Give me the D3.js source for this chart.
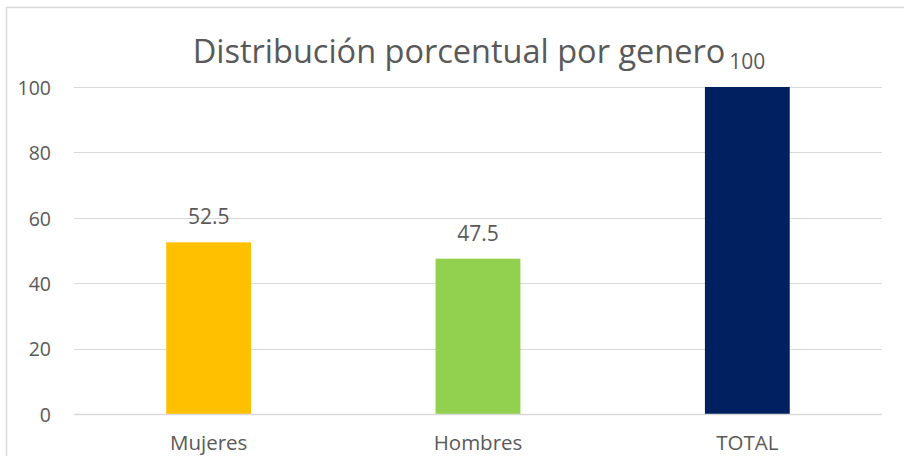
<!DOCTYPE html>
<html><head><meta charset="utf-8">
<script src="https://cdn.jsdelivr.net/npm/d3@7"></script>
<style>
html,body{margin:0;padding:0;background:#fff;}
text{font-family:"Open Sans",sans-serif;fill:#595959;}
</style></head>
<body>
<svg id="c" width="904" height="456"></svg>
<script>
const categories = ["Mujeres","Hombres","TOTAL"];
const values = [52.5, 47.5, 100];
const colors = ["#FFC000","#92D050","#002060"];
const yTicks = [0,20,40,60,80,100];
const title = "Distribución porcentual por genero";

const svg = d3.select("#c");
const W = 904, H = 456;
const m = {left:74, right:22, top:87, bottom:42};
const x = d3.scaleBand().domain(categories).range([m.left, W-m.right]).paddingInner(0.685).paddingOuter(0.3425);
const y = d3.scaleLinear().domain([0,100]).range([H-m.bottom, m.top]);

// chart border (left and top edges visible)
svg.append("path").attr("d","M6.5,456V7.5H904").attr("fill","none").attr("stroke","#d9d9d9").attr("stroke-width",1.5);

// gridlines
svg.append("g").selectAll("line").data(yTicks).join("line")
  .attr("x1",m.left).attr("x2",W-m.right)
  .attr("y1",d=>Math.round(y(d))+0.5).attr("y2",d=>Math.round(y(d))+0.5)
  .attr("stroke","#d9d9d9").attr("stroke-width",1);

// y axis labels
const ya = svg.append("g").attr("transform",`translate(${m.left},1)`)
  .call(d3.axisLeft(y).tickValues(yTicks).tickSize(0).tickPadding(23));
ya.select(".domain").remove();
ya.selectAll("text").style("font-size","19.5px").attr("fill","#595959");

// bars
svg.append("g").selectAll("rect").data(values).join("rect")
  .attr("x",(d,i)=>x(categories[i])).attr("width",x.bandwidth())
  .attr("y",d=>y(d)).attr("height",d=>y(0)-y(d))
  .attr("fill",(d,i)=>colors[i]);

// baseline
svg.append("line").attr("x1",m.left).attr("x2",W-m.right).attr("y1",y(0)+0.5).attr("y2",y(0)+0.5).attr("stroke","#d9d9d9").attr("stroke-width",1.5);

// data labels
svg.append("g").selectAll("text").data(values).join("text")
  .attr("x",(d,i)=>x(categories[i])+x.bandwidth()/2)
  .attr("y",d=>y(d)-18)
  .attr("text-anchor","middle").style("font-size","21px")
  .text(d=>d);

// x axis labels
const xa = svg.append("g").attr("transform",`translate(0,${H-m.bottom})`)
  .call(d3.axisBottom(x).tickSize(0).tickPadding(21));
xa.select(".domain").remove();
xa.selectAll("text").style("font-size","20.5px").attr("fill","#595959");

// title
svg.append("text").attr("x",459).attr("y",63).attr("text-anchor","middle")
  .style("font-size","32.5px").text(title);
</script>
</body></html>
